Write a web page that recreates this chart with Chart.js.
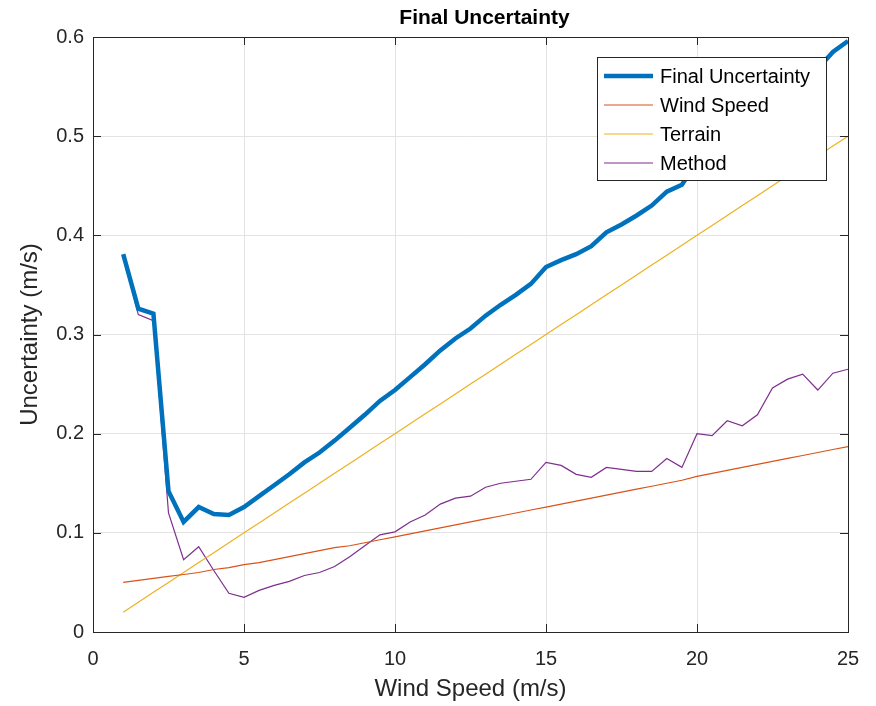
<!DOCTYPE html>
<html>
<head>
<meta charset="utf-8">
<script src="https://cdn.jsdelivr.net/npm/chart.js@4"></script>
<style>
  html, body { margin: 0; padding: 0; background: #fff; }
  #wrap { width: 876px; height: 706px; }
</style>
</head>
<body>
<div id="wrap"><canvas id="grafica"></canvas></div>
<script>
// wind speed grid (m/s)
const velocidades = [1, 1.5, 2, 2.5, 3, 3.5, 4, 4.5, 5, 5.5, 6, 6.5, 7, 7.5, 8, 8.5, 9, 9.5, 10, 10.5,
  11, 11.5, 12, 12.5, 13, 13.5, 14, 14.5, 15, 15.5, 16, 16.5, 17, 17.5, 18, 18.5, 19, 19.5, 20, 20.5,
  21, 21.5, 22, 22.5, 23, 23.5, 24, 24.5, 25];

const finalUnc = [0.381, 0.326, 0.321, 0.142, 0.111, 0.126, 0.119, 0.118, 0.126, 0.137, 0.148, 0.159,
  0.171, 0.181, 0.193, 0.206, 0.219, 0.233, 0.244, 0.257, 0.270, 0.284, 0.296, 0.306, 0.319, 0.330,
  0.340, 0.351, 0.368, 0.375, 0.381, 0.389, 0.403, 0.411, 0.420, 0.430, 0.444, 0.451, 0.474, 0.483,
  0.498, 0.506, 0.520, 0.541, 0.554, 0.566, 0.568, 0.585, 0.596];

const windSpeed = [0.050, 0.052, 0.054, 0.056, 0.058, 0.060, 0.063, 0.065, 0.068, 0.070, 0.073, 0.076,
  0.079, 0.082, 0.085, 0.087, 0.090, 0.093, 0.096, 0.099, 0.102, 0.105, 0.108, 0.111, 0.114, 0.117,
  0.120, 0.123, 0.126, 0.129, 0.132, 0.135, 0.138, 0.141, 0.144, 0.147, 0.150, 0.153, 0.157, 0.160,
  0.163, 0.166, 0.169, 0.172, 0.175, 0.178, 0.181, 0.184, 0.187];

const terrain = [0.02, 0.03, 0.04, 0.05, 0.06, 0.07, 0.08, 0.09, 0.10, 0.11, 0.12, 0.13, 0.14, 0.15,
  0.16, 0.17, 0.18, 0.19, 0.20, 0.21, 0.22, 0.23, 0.24, 0.25, 0.26, 0.27, 0.28, 0.29, 0.30, 0.31,
  0.32, 0.33, 0.34, 0.35, 0.36, 0.37, 0.38, 0.39, 0.40, 0.41, 0.42, 0.43, 0.44, 0.45, 0.46, 0.47,
  0.48, 0.49, 0.50];

const method = [0.380, 0.320, 0.314, 0.120, 0.073, 0.086, 0.062, 0.039, 0.035, 0.042, 0.047, 0.051,
  0.057, 0.060, 0.066, 0.076, 0.087, 0.098, 0.101, 0.111, 0.118, 0.129, 0.135, 0.137, 0.146, 0.150,
  0.152, 0.154, 0.171, 0.168, 0.159, 0.156, 0.166, 0.164, 0.162, 0.162, 0.175, 0.166, 0.200, 0.198,
  0.213, 0.208, 0.219, 0.246, 0.255, 0.260, 0.244, 0.261, 0.265];

const xTicks = [0, 5, 10, 15, 20, 25];
const yTicks = [0, 0.1, 0.2, 0.3, 0.4, 0.5, 0.6];

const fuente = '"Liberation Sans", Arial, sans-serif';
const gris = '#262626';

function serie(label, valores, color, ancho) {
  return {
    label: label,
    data: valores.map((v, i) => ({ x: velocidades[i], y: v })),
    borderColor: color,
    backgroundColor: color,
    borderWidth: ancho,
    pointRadius: 0,
    tension: 0,
    fill: false
  };
}

// MATLAB-like box, inward ticks, title and legend
const marcoMatlab = {
  id: 'marcoMatlab',
  afterDraw(chart) {
    const c = chart.ctx;
    const a = chart.chartArea;
    const sx = chart.scales.x, sy = chart.scales.y;
    c.save();
    c.strokeStyle = gris;
    c.lineWidth = 1;
    c.beginPath();
    xTicks.forEach(t => {
      const px = Math.round(sx.getPixelForValue(t)) + 0.5;
      c.moveTo(px, a.bottom); c.lineTo(px, a.bottom - 8);
      c.moveTo(px, a.top); c.lineTo(px, a.top + 8);
    });
    yTicks.forEach(t => {
      const py = Math.round(sy.getPixelForValue(t)) + 0.5;
      c.moveTo(a.left, py); c.lineTo(a.left + 8, py);
      c.moveTo(a.right, py); c.lineTo(a.right - 8, py);
    });
    c.stroke();
    c.strokeRect(Math.round(a.left) + 0.5, Math.round(a.top) + 0.5,
      Math.round(a.right - a.left), Math.round(a.bottom - a.top));

    // title
    c.fillStyle = '#000';
    c.font = 'bold 21px ' + fuente;
    c.textAlign = 'center';
    c.textBaseline = 'middle';
    c.fillText('Final Uncertainty', (a.left + a.right) / 2 + 14, 18);

    // legend
    const lx = 597, ly = 57, lw = 229, lh = 123;
    c.fillStyle = '#fff';
    c.fillRect(lx, ly, lw, lh);
    c.strokeStyle = gris;
    c.strokeRect(lx + 0.5, ly + 0.5, lw, lh);
    c.font = '20px ' + fuente;
    c.textAlign = 'left';
    chart.data.datasets.forEach((ds, i) => {
      const yy = ly + 19 + i * 29;
      c.strokeStyle = ds.borderColor;
      c.lineWidth = ds.borderWidth;
      c.beginPath();
      c.moveTo(lx + 7, yy); c.lineTo(lx + 56, yy);
      c.stroke();
      c.fillStyle = '#000';
      c.fillText(ds.label, lx + 63, yy + 1);
    });
    c.restore();
  }
};

const ctx = document.getElementById('grafica').getContext('2d');
const grafica = new Chart(ctx, {
  type: 'line',
  data: {
    datasets: [
      serie('Final Uncertainty', finalUnc, '#0072BD', 4.5),
      serie('Wind Speed', windSpeed, '#D95319', 1.2),
      serie('Terrain', terrain, '#EDB120', 1.2),
      serie('Method', method, '#7E2F8E', 1.2)
    ]
  },
  options: {
    responsive: true,
    maintainAspectRatio: false,
    animation: false,
    layout: { padding: { top: 37, right: 28, left: 0, bottom: 0 } },
    plugins: {
      legend: { display: false },
      title: { display: false },
      tooltip: { enabled: false }
    },
    scales: {
      x: {
        type: 'linear',
        min: 0,
        max: 25,
        afterFit: s => { s.height = 74; },
        afterBuildTicks: s => { s.ticks = xTicks.map(v => ({ value: v })); },
        grid: { color: '#e3e3e3', drawTicks: false },
        border: { display: false },
        ticks: { color: gris, padding: 15, font: { family: fuente, size: 20 } },
        title: {
          display: true,
          text: 'Wind Speed (m/s)',
          color: gris,
          padding: { top: 0, bottom: 2 },
          font: { family: fuente, size: 24 }
        }
      },
      y: {
        type: 'linear',
        min: 0,
        max: 0.6,
        afterFit: s => { s.width = 93; },
        afterBuildTicks: s => { s.ticks = yTicks.map(v => ({ value: v })); },
        grid: { color: '#e3e3e3', drawTicks: false },
        border: { display: false },
        ticks: { color: gris, padding: 9, font: { family: fuente, size: 20 },
          callback: v => String(Math.round(v * 10) / 10) },
        title: {
          display: true,
          text: 'Uncertainty (m/s)',
          color: gris,
          padding: { top: 16, bottom: 0 },
          font: { family: fuente, size: 24 }
        }
      }
    }
  },
  plugins: [marcoMatlab]
});
</script>
</body>
</html>
